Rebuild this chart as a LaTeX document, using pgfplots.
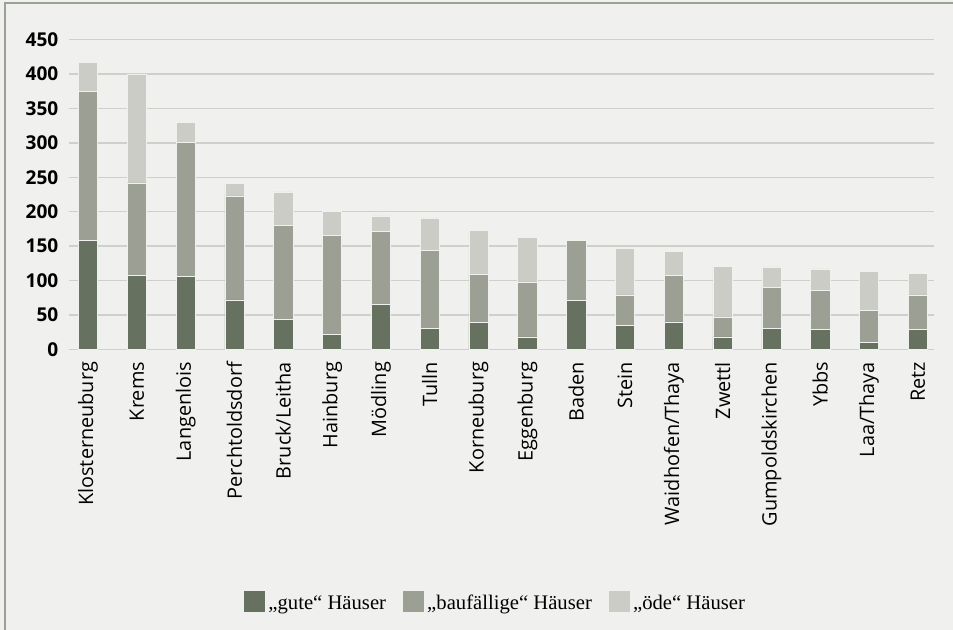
\documentclass[border=0pt]{standalone}
\usepackage{fontspec}
\setmainfont{Open Sans}
\newfontfamily\legfont{Liberation Serif}
\usepackage{pgfplots}
\usepackage{pgfplotstable}
\pgfplotsset{compat=1.18}

\definecolor{gute}{HTML}{66725F}
\definecolor{baufaellig}{HTML}{9C9F94}
\definecolor{oede}{HTML}{CBCCC5}
\definecolor{bgc}{HTML}{F0F0EE}
\definecolor{gridc}{HTML}{CFCFCB}
\definecolor{framec}{HTML}{9AA391}

% x, gute, baufaellige, oede
\pgfplotstableread{
x  gute  bauf  oede
0  158   217   42
1  107   135   158
2  106   195   29
3  72    151   18
4  43    137   49
5  22    144   35
6  65    106   23
7  30    114   47
8  39    70    64
9  18    80    65
10 71    87    0
11 35    44    68
12 40    67    35
13 18    29    74
14 30    60    30
15 29    57    31
16 10    47    56
17 29    50    31
}\haeuser

\begin{document}
\begin{tikzpicture}
\path[fill=bgc, use as bounding box] (-51.75pt,-210.5pt) rectangle (663pt,262pt);
\begin{axis}[
    scale only axis,
    width=648.75pt, height=232.2pt,
    ybar stacked,
    bar width=0.395,
    xmin=-0.39, xmax=17.33,
    ymin=0, ymax=450,
    ytick={0,50,...,450},
    xtick=data,
    xticklabels={Klosterneuburg,Krems,Langenlois,Perchtoldsdorf,Bruck/Leitha,Hainburg,Mödling,Tulln,Korneuburg,Eggenburg,Baden,Stein,Waidhofen/Thaya,Zwettl,Gumpoldskirchen,Ybbs,Laa/Thaya,Retz},
    /pgf/number format/assume math mode=true,
    major tick length=0pt,
    axis x line*=bottom,
    axis y line*=left,
    y axis line style={draw=none},
    x axis line style={draw=gridc, line width=1pt},
    ymajorgrids,
    grid style={draw=gridc, line width=1pt},
    yticklabel style={font=\bfseries\fontsize{14.3}{16}\selectfont, xshift=-4.5pt},
    xticklabel style={rotate=90, anchor=east, font=\fontsize{14.9}{17}\selectfont},
    xticklabel shift=6pt,
    legend columns=3,
    legend style={
        at={(0.493,-0.817)}, anchor=center,
        draw=none, fill=none,
        font=\legfont\fontsize{15.5}{18}\selectfont,
        /tikz/every even column/.append style={column sep=10pt},
    },
    legend image code/.code={\fill[#1] (0pt,-6.5pt) rectangle (16.5pt,10pt);},
]
\addplot[fill=gute, draw=bgc, line width=0.4pt] table[x=x, y=gute] {\haeuser};
\addplot[fill=baufaellig, draw=bgc, line width=0.4pt] table[x=x, y=bauf] {\haeuser};
\addplot[fill=oede, draw=bgc, line width=0.4pt] table[x=x, y=oede] {\haeuser};
\legend{„gute“ Häuser, „baufällige“ Häuser, „öde“ Häuser}
\end{axis}
\draw[framec, line width=1.5pt] (-48pt,-210.5pt) -- (-48pt,259.7pt) -- (663pt,259.7pt);
\end{tikzpicture}
\end{document}
